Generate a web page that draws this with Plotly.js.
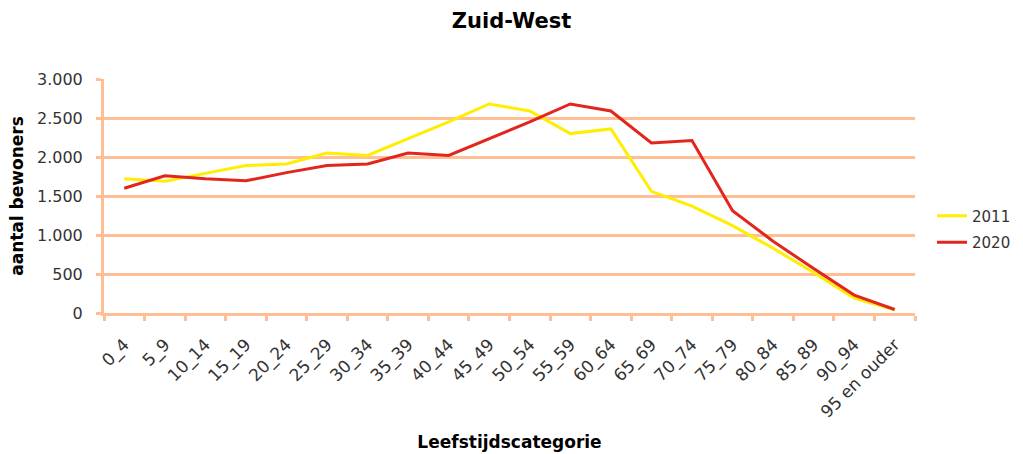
<!DOCTYPE html>
<html>
<head>
<meta charset="utf-8">
<script src="https://cdn.plot.ly/plotly-3.0.1.min.js"></script>
<style>html,body{margin:0;padding:0;background:#fff;}#chart{width:1023px;height:454px;}</style>
</head>
<body>
<div id="chart"></div>
<script>
const categories = ['0_4','5_9','10_14','15_19','20_24','25_29','30_34','35_39','40_44','45_49','50_54','55_59','60_64','65_69','70_74','75_79','80_84','85_89','90_94','95 en ouder'];
const series2011 = [1720,1690,1790,1890,1910,2050,2020,2230,2450,2680,2590,2300,2360,1560,1370,1120,830,520,190,40];
const series2020 = [1600,1760,1720,1695,1800,1890,1910,2050,2020,2230,2450,2680,2590,2180,2210,1310,920,570,230,45];
const seriesNames = ['2011','2020'];
const yTickValues = [0,500,1000,1500,2000,2500,3000];

const FONT = 'DejaVu Sans, Verdana, sans-serif';
const GRID = '#FFBE94';

const traces = [
  {x: categories, y: series2011, name: seriesNames[0], type: 'scatter', mode: 'lines', legendgroup: 'a',
   line: {color: '#FFEE00', width: 3}},
  {x: categories, y: series2020, name: seriesNames[1], type: 'scatter', mode: 'lines', legendgroup: 'b',
   line: {color: '#E3261B', width: 3}}
];

const layout = {
  width: 1023, height: 454,
  margin: {l: 104, r: 108, t: 79, b: 141, pad: 0, autoexpand: false},
  paper_bgcolor: '#ffffff', plot_bgcolor: '#ffffff',
  separators: ',.',
  font: {family: FONT, size: 16, color: '#333333'},
  showlegend: true,
  title: {text: 'Zuid-West', font: {family: FONT, size: 21, color: '#000000', weight: 'bold'},
          x: 0.5, xref: 'container', y: 1 - 21/454, yref: 'container', yanchor: 'middle'},
  xaxis: {
    type: 'category', range: [-0.5, 19.5], tickson: 'boundaries',
    ticks: 'outside', ticklen: 5, tickwidth: 3, tickcolor: GRID,
    showline: true, linecolor: GRID, linewidth: 3,
    showgrid: false, zeroline: false,
    tickangle: -45, tickfont: {family: FONT, size: 17, color: '#333333'},
    ticklabelstandoff: 12,
    title: {text: 'Leefstijdscategorie', font: {family: FONT, size: 17, color: '#000000', weight: 'bold'}, standoff: 16},
    automargin: false
  },
  yaxis: {
    range: [0, 3000], tickvals: yTickValues, tickformat: ',d',
    ticks: 'outside', ticklen: 5, tickwidth: 3, tickcolor: GRID,
    showline: true, linecolor: GRID, linewidth: 3,
    showgrid: true, gridcolor: GRID, gridwidth: 3, zeroline: false,
    tickfont: {family: FONT, size: 16, color: '#333333'},
    ticklabelstandoff: 10,
    title: {text: 'aantal bewoners', font: {family: FONT, size: 17, color: '#000000', weight: 'bold'}, standoff: 10},
    automargin: false
  },
  legend: {xref: 'container', yref: 'container', x: 932/1023, xanchor: 'left', y: 1 - 229/454, yanchor: 'middle',
           font: {family: FONT, size: 15, color: '#333333'},
           bgcolor: 'rgba(0,0,0,0)', traceorder: 'grouped', tracegroupgap: 4, itemwidth: 30}
};

Plotly.newPlot('chart', traces, layout, {displayModeBar: false, staticPlot: true});
</script>
</body>
</html>
